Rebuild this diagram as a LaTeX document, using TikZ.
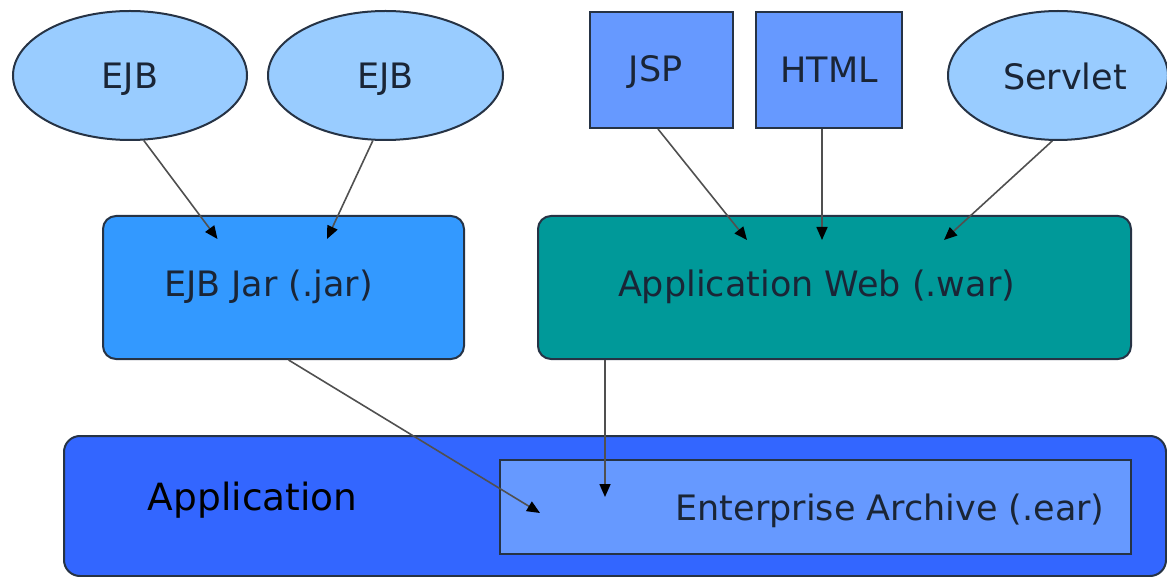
\documentclass[tikz,border=0pt]{standalone}
\usepackage{fontspec}
\setmainfont{DejaVu Sans}
\usetikzlibrary{shapes.geometric,arrows.meta,calc}

\definecolor{beanfill}{HTML}{99CCFF}
\definecolor{pagefill}{HTML}{6699FF}
\definecolor{jarfill}{HTML}{3399FF}
\definecolor{warfill}{HTML}{009999}
\definecolor{appfill}{HTML}{3366FF}
\definecolor{earfill}{HTML}{6699FF}
\definecolor{edgecol}{HTML}{263345}
\definecolor{txtcol}{HTML}{1A2536}
\definecolor{linkcol}{HTML}{505050}

\tikzset{
  lbl/.style={font=\fontsize{17.5pt}{21pt}\selectfont, text=txtcol, text depth=0pt},
  bean/.style={ellipse, draw=edgecol, line width=1pt, fill=beanfill,
    inner sep=0pt, minimum height=64.5pt, lbl},
  page/.style={rectangle, draw=edgecol, line width=1pt, fill=pagefill,
    inner sep=0pt, minimum height=58pt, lbl},
  module/.style={rectangle, rounded corners=6.5pt, draw=edgecol, line width=1pt,
    inner sep=0pt, minimum height=71.5pt},
  caption/.style={lbl, inner sep=0pt},
  link/.style={draw=linkcol, line width=0.8pt,
    -{Triangle[length=6.5pt,width=5.5pt,color=black]}},
}

\begin{document}
\begin{tikzpicture}[x=0.5pt,y=-0.5pt]
\useasboundingbox (0,0) rectangle (1167,577);

% components
\node[bean, minimum width=117pt]   (ejb1)    at (130,75.5)   {EJB};
\node[bean, minimum width=117.5pt] (ejb2)    at (385.5,75.5) {EJB};
\node[page, minimum width=71.5pt]  (jsp)     at (661.5,70)   {};
\node[caption] (jsptitle) at ($(jsp.center)+(-6,-1)$) {JSP};
\node[page, minimum width=73pt]    (html)    at (829,70)     {HTML};
\node[bean, minimum width=110pt]   (servlet) at (1058,75.5)  {};
\node[caption] (servlettitle) at ($(servlet.center)+(7,0.5)$) {Servlet};

% modules
\node[module, fill=jarfill, minimum width=180.5pt] (jar) at (283.5,287.5) {};
\node[caption] (jartitle) at ($(jar.center)+(-15,-4)$) {EJB Jar (.jar)};
\node[module, fill=warfill, minimum width=296.5pt] (web) at (834.5,287.5) {};
\node[caption] (webtitle) at ($(web.center)+(-18,-4)$) {Application Web (.war)};

% application and its archive
\node[module, fill=appfill, rounded corners=8pt, minimum width=551pt, minimum height=70pt] (app) at (615,506) {};
\node[anchor=base west, inner sep=0pt, font=\fontsize{18.75pt}{22pt}\selectfont, text=black] (apptitle) at (147.5,510) {Application};
\node[rectangle, draw=edgecol, line width=1pt, fill=earfill, minimum width=315.5pt,
  minimum height=47pt, inner sep=0pt] (ear) at (815.5,507) {};
\node[caption, anchor=base east] (eartitle) at (1105,520) {Enterprise Archive (.ear)};

% arrow ends
\coordinate (t1) at (217.5,239);
\coordinate (t2) at (327,239);
\coordinate (t3) at (747,240);
\coordinate (t4) at (822,240);
\coordinate (t5) at (944,240);
\coordinate (t6) at (540,513);
\coordinate (t7) at (605,497);

% connectors
\draw[link] (ejb1.-78.6) -- (t1);
\draw[link] (ejb2.-101.8) -- (t2);
\draw[link] ($(jsp.south)+(-3.5,0)$) -- (t3);
\draw[link] (t4 |- html.south) -- (t4);
\draw[link] (servlet.-95.3) -- (t5);
\draw[link] (jar.-86.4) -- (t6);
\draw[link] (t7 |- web.south) -- (t7);
\end{tikzpicture}
\end{document}
